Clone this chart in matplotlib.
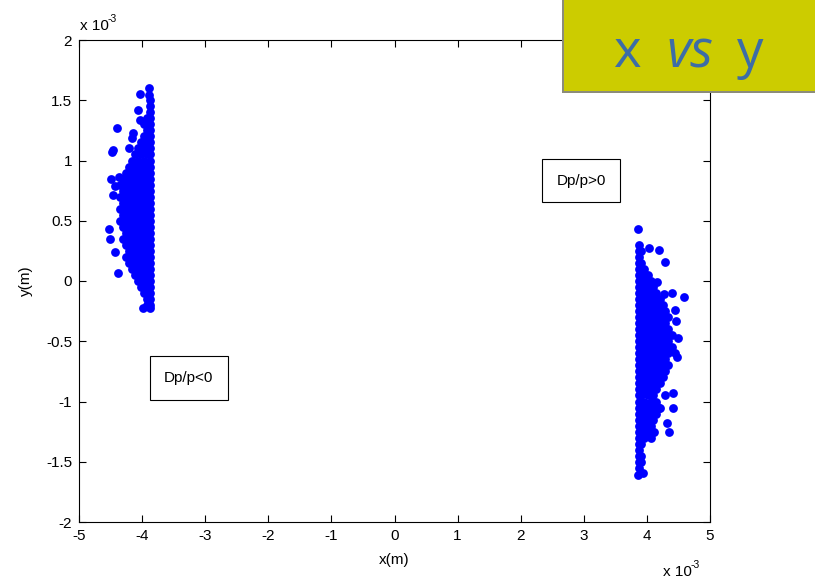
import matplotlib
matplotlib.use("Agg")
import matplotlib.pyplot as plt
from matplotlib.patches import Rectangle

plt.rcParams['font.family'] = ['Liberation Sans', 'DejaVu Sans']

# ---------------- data (units of 1e-3 m) ----------------
# Dp/p<0 cluster: dense core rows (y, [x positions])
left_core = [
    (1.50, [-3.88]),
    (1.45, [-3.88]),
    (1.40, [-3.88]),
    (1.35, [-3.88, -3.93]),
    (1.30, [-3.88, -3.97]),
    (1.25, [-3.88, -3.93]),
    (1.20, [-3.88, -3.97]),
    (1.15, [-3.88, -3.93, -4.02]),
    (1.10, [-3.88, -3.97, -4.07]),
    (1.05, [-3.88, -3.93, -4.02, -4.12]),
    (1.00, [-3.88, -3.97, -4.07, -4.16]),
    (0.95, [-3.88, -3.93, -4.02, -4.12, -4.21]),
    (0.90, [-3.88, -3.97, -4.07, -4.16, -4.26]),
    (0.85, [-3.88, -3.93, -4.02, -4.12, -4.21, -4.31]),
    (0.80, [-3.88, -3.97, -4.07, -4.16, -4.26, -4.35]),
    (0.75, [-3.88, -3.93, -4.02, -4.12, -4.21, -4.31]),
    (0.70, [-3.88, -3.97, -4.07, -4.16, -4.26, -4.35]),
    (0.65, [-3.88, -3.93, -4.02, -4.12, -4.21, -4.31]),
    (0.60, [-3.88, -3.97, -4.07, -4.16, -4.26, -4.35]),
    (0.55, [-3.88, -3.93, -4.02, -4.12, -4.21, -4.31]),
    (0.50, [-3.88, -3.97, -4.07, -4.16, -4.26, -4.35]),
    (0.45, [-3.88, -3.93, -4.02, -4.12, -4.21, -4.31]),
    (0.40, [-3.88, -3.97, -4.07, -4.16, -4.26]),
    (0.35, [-3.88, -3.93, -4.02, -4.12, -4.21, -4.31]),
    (0.30, [-3.88, -3.97, -4.07, -4.16, -4.26]),
    (0.25, [-3.88, -3.93, -4.02, -4.12, -4.21]),
    (0.20, [-3.88, -3.97, -4.07, -4.16, -4.26]),
    (0.15, [-3.88, -3.93, -4.02, -4.12, -4.21]),
    (0.10, [-3.88, -3.97, -4.07, -4.16]),
    (0.05, [-3.88, -3.93, -4.02, -4.12]),
    (0.00, [-3.88, -3.97, -4.07]),
    (-0.05, [-3.88, -3.93, -4.02]),
    (-0.10, [-3.88, -3.97]),
    (-0.15, [-3.88, -3.93]),
    (-0.20, [-3.88, -3.92]),
]
left_out_x = [-3.89, -3.89, -4.03, -4.06, -4.03, -4.40, -4.14, -4.16, -4.21,
              -4.46, -4.48, -4.50, -4.43, -4.37, -4.46, -4.52, -4.51, -4.43,
              -4.38, -3.99, -3.88]
left_out_y = [1.60, 1.54, 1.55, 1.42, 1.34, 1.27, 1.23, 1.19, 1.10,
              1.09, 1.07, 0.85, 0.79, 0.86, 0.71, 0.43, 0.35, 0.24,
              0.07, -0.22, -0.22]

# Dp/p>0 cluster: dense core rows (y, [x positions])
right_core = [
    (0.30, [3.87]),
    (0.25, [3.87, 3.91]),
    (0.20, [3.87]),
    (0.15, [3.87, 3.91]),
    (0.10, [3.87, 3.96]),
    (0.05, [3.87, 3.91, 4.01]),
    (0.00, [3.87, 3.96, 4.06]),
    (-0.05, [3.87, 3.91, 4.01, 4.10]),
    (-0.10, [3.87, 3.96, 4.06, 4.15]),
    (-0.15, [3.87, 3.91, 4.01, 4.10, 4.20]),
    (-0.20, [3.87, 3.96, 4.06, 4.15, 4.25]),
    (-0.25, [3.87, 3.91, 4.01, 4.10, 4.20, 4.29]),
    (-0.30, [3.87, 3.96, 4.06, 4.15, 4.25, 4.34]),
    (-0.35, [3.87, 3.91, 4.01, 4.10, 4.20, 4.29]),
    (-0.40, [3.87, 3.96, 4.06, 4.15, 4.25, 4.34]),
    (-0.45, [3.87, 3.91, 4.01, 4.10, 4.20, 4.29, 4.39]),
    (-0.50, [3.87, 3.96, 4.06, 4.15, 4.25, 4.34]),
    (-0.55, [3.87, 3.91, 4.01, 4.10, 4.20, 4.29, 4.39]),
    (-0.60, [3.87, 3.96, 4.06, 4.15, 4.25, 4.34, 4.44]),
    (-0.65, [3.87, 3.91, 4.01, 4.10, 4.20, 4.29]),
    (-0.70, [3.87, 3.96, 4.06, 4.15, 4.25, 4.34]),
    (-0.75, [3.87, 3.91, 4.01, 4.10, 4.20, 4.29]),
    (-0.80, [3.87, 3.96, 4.06, 4.15, 4.25]),
    (-0.85, [3.87, 3.91, 4.01, 4.10, 4.20]),
    (-0.90, [3.87, 3.96, 4.06, 4.15]),
    (-0.95, [3.87, 3.91, 4.01, 4.10]),
    (-1.00, [3.87, 3.96, 4.06, 4.15]),
    (-1.05, [3.87, 3.91, 4.01, 4.10, 4.20]),
    (-1.10, [3.87, 3.96, 4.06, 4.15]),
    (-1.15, [3.87, 3.91, 4.01, 4.10]),
    (-1.20, [3.87, 3.96, 4.06]),
    (-1.25, [3.87, 3.91, 4.01, 4.10]),
    (-1.30, [3.87, 3.96, 4.06]),
    (-1.35, [3.87, 3.91]),
    (-1.40, [3.87]),
    (-1.45, [3.87, 3.91]),
    (-1.50, [3.87]),
    (-1.55, [3.87]),
]
right_out_x = [3.86, 4.03, 4.19, 4.29, 4.16, 4.27, 4.40, 4.59, 4.45, 4.46,
               4.49, 4.48, 4.41, 4.29, 4.41, 4.19, 4.32, 4.35, 4.11, 3.90,
               3.86, 3.94]
right_out_y = [0.43, 0.27, 0.26, 0.16, -0.01, -0.11, -0.10, -0.13, -0.24, -0.33,
               -0.47, -0.63, -0.93, -0.95, -1.05, -1.05, -1.18, -1.25, -1.25, -1.50,
               -1.61, -1.59]

x_ticks = [-5, -4, -3, -2, -1, 0, 1, 2, 3, 4, 5]
x_tick_labels = ['-5', '-4', '-3', '-2', '-1', '0', '1', '2', '3', '4', '5']
y_ticks = [-2, -1.5, -1, -0.5, 0, 0.5, 1, 1.5, 2]
y_tick_labels = ['-2', '-1.5', '-1', '-0.5', '0', '0.5', '1', '1.5', '2']

# ---------------- build point lists ----------------
xs, ys = [], []
for yv, xrow in left_core + right_core:
    for xv in xrow:
        xs.append(xv)
        ys.append(yv)
xs += left_out_x + right_out_x
ys += left_out_y + right_out_y

# ---------------- figure ----------------
W, H = 815, 581
fig = plt.figure(figsize=(W / 100, H / 100), dpi=100)
ax = fig.add_axes([79 / W, 1 - 522 / H, (710 - 79) / W, (522 - 40) / H])

ax.scatter(xs, ys, s=40, c='#0000FF', linewidths=0, zorder=3)

ax.set_xlim(-5, 5)
ax.set_ylim(-2, 2)
ax.set_xticks(x_ticks)
ax.set_xticklabels(x_tick_labels)
ax.set_yticks(y_ticks)
ax.set_yticklabels(y_tick_labels)
ax.tick_params(direction='in', length=5, width=0.8, top=True, right=True,
               labelsize=11, colors='black', pad=5)
for sp in ax.spines.values():
    sp.set_linewidth(0.8)

ax.set_xlabel('x(m)', fontsize=11, labelpad=7)
ax.set_ylabel('y(m)', fontsize=11, labelpad=9)

# exponent labels
fig.text(80 / W, 1 - 30 / H, 'x 10', fontsize=11, ha='left', va='baseline')
fig.text(108 / W, 1 - 22 / H, '-3', fontsize=7.5, ha='left', va='baseline')
fig.text(663 / W, 1 - 576 / H, 'x 10', fontsize=11, ha='left', va='baseline')
fig.text(691 / W, 1 - 568 / H, '-3', fontsize=7.5, ha='left', va='baseline')

# annotation boxes
box = dict(boxstyle='square,pad=0.95', fc='white', ec='black', lw=0.8)
ax.text(2.96, 0.83, 'Dp/p>0', fontsize=11, ha='center', va='center', bbox=box, zorder=5)
ax.text(-3.26, -0.805, 'Dp/p<0', fontsize=11, ha='center', va='center', bbox=box, zorder=5)

# title banner
fig.patches.append(Rectangle((562 / W, 1 - 93 / H), (W - 562) / W, 93 / H,
                             transform=fig.transFigure, fc='#8C8C7A', ec='none', zorder=10))
fig.patches.append(Rectangle((564 / W, 1 - 91 / H), (W - 564) / W, 91 / H,
                             transform=fig.transFigure, fc='#CCCC00', ec='none', zorder=11))
fig.text(614 / W, 1 - 67 / H, 'x', fontsize=38, color='#3D6DA6', family='Open Sans',
         ha='left', va='baseline', zorder=12)
fig.text(666 / W, 1 - 67 / H, 'vs', fontsize=38, color='#3D6DA6', family='Open Sans',
         style='italic', ha='left', va='baseline', zorder=12)
fig.text(737 / W, 1 - 67 / H, 'y', fontsize=38, color='#3D6DA6', family='Open Sans',
         ha='left', va='baseline', zorder=12)

fig.savefig('out.png', dpi=100)
